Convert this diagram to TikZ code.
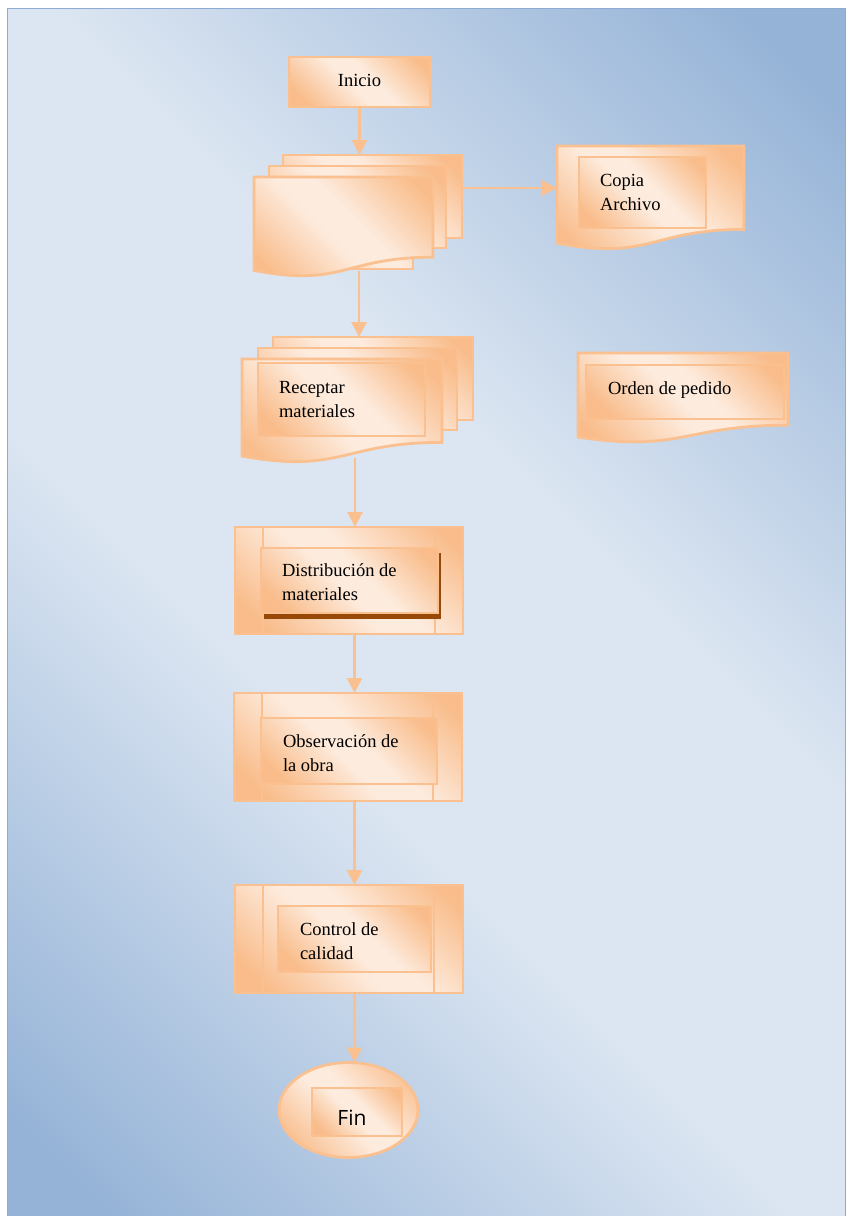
\documentclass[tikz,border=0pt]{standalone}
\usepackage{fontspec}
\setmainfont{Liberation Serif}
\newfontfamily\finfont{Open Sans}
\usetikzlibrary{arrows.meta,shapes.geometric}
\definecolor{bgdark}{HTML}{95B3D7}
\definecolor{bglight}{HTML}{DCE6F2}
\definecolor{bgframe}{HTML}{8EABD4}
\definecolor{ordark}{HTML}{F9BC8A}
\definecolor{orlight}{HTML}{FDEBDD}
\definecolor{orline}{HTML}{FAC090}
\definecolor{shadowbrown}{HTML}{984807}
\pgfdeclarehorizontalshading{bgshade}{100bp}{color(0bp)=(bgdark); color(18bp)=(bgdark); color(42bp)=(bglight); color(58bp)=(bglight); color(82bp)=(bgdark); color(100bp)=(bgdark)}
\pgfdeclarehorizontalshading{orshade}{100bp}{color(0bp)=(ordark); color(22bp)=(ordark); color(46bp)=(orlight); color(56bp)=(orlight); color(80bp)=(ordark); color(100bp)=(ordark)}
\newcommand\lblfont{\fontsize{18.5}{24.5}\selectfont}
\newcommand\mylines[2]{\begin{tabular}[t]{@{}l@{}}#1\\#2\end{tabular}}
\tikzset{
  fillshape/.style={shade, shading=orshade, shading angle=45, draw=orline, line width=2.8pt},
  recbox/.style={fillshape, inner sep=0pt, outer sep=0pt, anchor=north west},
  txtbox/.style={recbox, line width=2.5pt},
  barline/.style={draw=orline, line width=2.8pt},
  conn/.style={draw=orline, line width=2.8pt, -{Triangle[length=15pt,width=15pt]}},
  lbl/.style={font=\lblfont, anchor=base west, inner sep=0pt, outer sep=0pt},
}
\begin{document}
\begin{tikzpicture}[x=1pt,y=-1pt]
\useasboundingbox (0,0) rectangle (846,1216);
% background
\path[shade, shading=bgshade, shading angle=45, draw=bgframe, line width=1.5pt] (7.5,8.5) rectangle (845.5,1218);

% Inicio
\node[recbox, minimum width=141pt, minimum height=50pt, font=\lblfont, text height=13pt, text depth=4pt] (inicio) at (289,57) {Inicio};

% multi-document A
\node[recbox, minimum width=179pt, minimum height=83pt] (mdA3) at (283,155) {};
\node[recbox, minimum width=177pt, minimum height=82pt] (mdA2) at (269,166) {};
\node[recbox, minimum width=113pt, minimum height=69pt] (mdAx) at (300,200) {};
\path[fillshape] (254,177) -- (433,177) -- (433,257.2) .. controls (343.5,257.2) and (343.5,287.7) .. (254,270.4) -- cycle;

% Copia Archivo
\path[fillshape] (557,146) -- (744,146) -- (744,229.4) .. controls (650.5,229.4) and (650.5,261.1) .. (557,243.1) -- cycle;
\node[txtbox, minimum width=127pt, minimum height=71pt] (copiain) at (579,157) {};
\node[lbl] (copiatxt) at (600,186) {\lblfont\mylines{Copia}{Archivo}};

% multi-document B
\node[recbox, minimum width=200pt, minimum height=83pt] (mdB3) at (273,337) {};
\node[recbox, minimum width=199pt, minimum height=82pt] (mdB2) at (258,348) {};
\path[fillshape] (242,359) -- (442,359) -- (442,442.4) .. controls (342,442.4) and (342,474.1) .. (242,456.1) -- cycle;
\node[txtbox, minimum width=167pt, minimum height=73pt] (mdBin) at (258,363) {};
\node[lbl] (mdBtxt) at (279,393) {\lblfont\mylines{Receptar}{materiales}};

% Orden de pedido
\path[fillshape] (578,353) -- (788,353) -- (788,425.2) .. controls (683,425.2) and (683,452.6) .. (578,437.1) -- cycle;
\node[txtbox, minimum width=198pt, minimum height=54pt] (ordenin) at (586,365) {};
\node[lbl] (ordentxt) at (608,394) {Orden de pedido};

% Distribucion
\node[recbox, minimum width=228pt, minimum height=107pt] (dist) at (235,527) {};
\draw[barline] ([xshift=28pt]dist.north west) -- ([xshift=28pt]dist.south west);
\draw[barline] ([xshift=-28pt]dist.north east) -- ([xshift=-28pt]dist.south east);
\fill[shadowbrown] (263.7,553) rectangle (441,618.5);
\node[txtbox, minimum width=177pt, minimum height=65pt] (distin) at (261,548) {};
\node[lbl] (disttxt) at (282,576) {\lblfont\mylines{Distribución de}{materiales}};

% Observacion
\node[recbox, minimum width=228pt, minimum height=108pt] (obs) at (234,693) {};
\draw[barline] ([xshift=28pt]obs.north west) -- ([xshift=28pt]obs.south west);
\draw[barline] ([xshift=-29pt]obs.north east) -- ([xshift=-29pt]obs.south east);
\node[txtbox, minimum width=176pt, minimum height=66pt] (obsin) at (261,718) {};
\node[lbl] (obstxt) at (283,747) {\lblfont\mylines{Observación de}{la obra}};

% Control de calidad
\node[recbox, minimum width=228pt, minimum height=108pt] (ctrl) at (235,885) {};
\draw[barline] ([xshift=28pt]ctrl.north west) -- ([xshift=28pt]ctrl.south west);
\draw[barline] ([xshift=-29pt]ctrl.north east) -- ([xshift=-29pt]ctrl.south east);
\node[txtbox, minimum width=153pt, minimum height=66pt] (ctrlin) at (278,906) {};
\node[lbl] (ctrltxt) at (300,935) {\lblfont\mylines{Control de}{calidad}};

% Fin
\node[fillshape, ellipse, minimum width=139pt, minimum height=95pt, inner sep=0pt, outer sep=0pt] (fin) at (348.5,1110) {};
\node[txtbox, minimum width=90pt, minimum height=48pt] (finin) at (312,1088) {};
\node[font=\finfont\fontsize{21}{24}\selectfont, anchor=base, inner sep=0pt] (fintxt) at (352,1125) {Fin};

% connectors
\coordinate (mdAout) at (359,271);
\coordinate (copiaIn) at (557,188);
\coordinate (mdBout) at (355,458);
\coordinate (colB) at (354.5,0);
\draw[conn] (inicio.south) -- (inicio.south |- mdA3.north);
\draw[conn] (mdAout) -- (mdAout |- mdB3.north);
\draw[conn] (mdA3.east |- copiaIn) -- (copiaIn);
\draw[conn] (mdBout) -- (mdBout |- dist.north);
\draw[conn] (colB |- dist.south) -- (colB |- obs.north);
\draw[conn] (colB |- obs.south) -- (colB |- ctrl.north);
\draw[conn] (colB |- ctrl.south) -- (colB |- fin.north);
\end{tikzpicture}
\end{document}
